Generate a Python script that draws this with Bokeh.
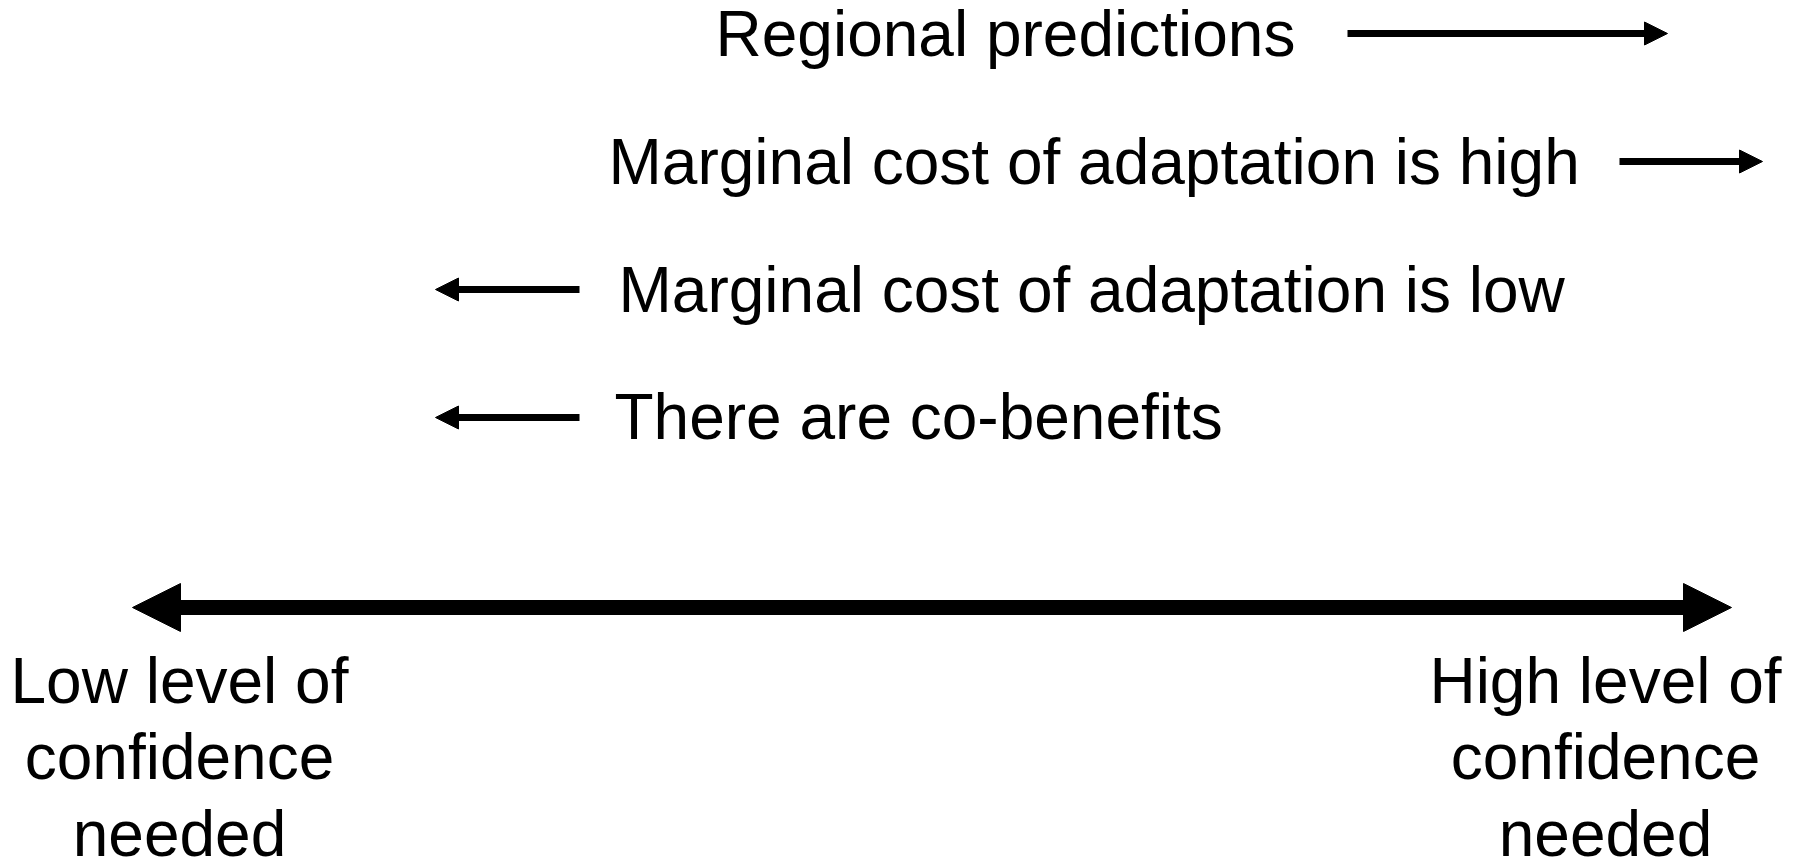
from bokeh.plotting import figure
from bokeh.models import Range1d, Arrow, NormalHead, ColumnDataSource
from bokeh.core.properties import value
from bokeh.embed import file_html
from bokeh.resources import INLINE

# Statements and the direction they push the needed confidence level
statements = [
    "Regional predictions",
    "Marginal cost of adaptation is high",
    "Marginal cost of adaptation is low",
    "There are co-benefits",
]
statement_x = [715, 608, 618, 614]
statement_baseline = [57, 185, 313, 440]
arrow_start = [1347, 1619, 579, 579]
arrow_end = [1667, 1762, 435, 435]
arrow_y = [33, 161, 289, 417]

# Confidence scale (double-headed axis)
scale_left = 132
scale_right = 1731
scale_y = 607

left_label = ["Low level of", "confidence", "needed"]
right_label = ["High level of", "confidence", "needed"]
label_centers = [179, 1605]
label_baselines = [704, 780, 857]

FONT = value("Liberation Sans")
FS = "64px"
BASE_SHIFT = 24  # renderer places alphabetic baseline below the anchor

p = figure(width=1798, height=860, output_backend="svg", toolbar_location=None,
           x_range=Range1d(0, 1798), y_range=Range1d(860, 0),
           min_border=0, outline_line_color=None, background_fill_color="white",
           border_fill_color="white")
p.axis.visible = False
p.grid.visible = False

# statement texts
p.text(x=statement_x, y=[b - BASE_SHIFT for b in statement_baseline], text=statements,
       text_font=FONT, text_font_size=FS, text_color="black",
       text_align="left", text_baseline="alphabetic")

# statement arrows
src = ColumnDataSource(dict(x0=arrow_start, x1=arrow_end, y=arrow_y))
p.add_layout(Arrow(source=src, x_start="x0", y_start="y", x_end="x1", y_end="y",
                   line_width=7, line_color="black",
                   end=NormalHead(size=23, fill_color="black", line_color="black", line_width=1)))

# double-headed scale arrow
p.add_layout(Arrow(x_start=scale_left, y_start=scale_y, x_end=scale_right, y_end=scale_y,
                   line_width=15, line_color="black",
                   start=NormalHead(size=48, fill_color="black", line_color="black", line_width=1),
                   end=NormalHead(size=48, fill_color="black", line_color="black", line_width=1)))

# end labels
for cx, lines in zip(label_centers, [left_label, right_label]):
    p.text(x=[cx] * len(lines), y=[b - BASE_SHIFT for b in label_baselines], text=lines,
           text_font=FONT, text_font_size=FS, text_color="black",
           text_align="center", text_baseline="alphabetic")

open("out.html", "w").write(file_html(p, INLINE))
